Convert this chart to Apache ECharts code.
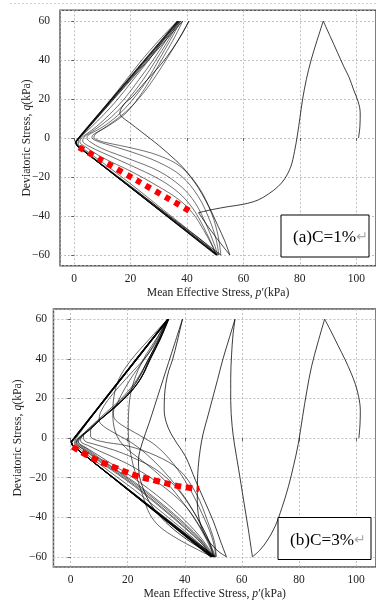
<!DOCTYPE html>
<html>
<head>
<meta charset="utf-8">
<script src="https://cdn.jsdelivr.net/npm/echarts@6/dist/echarts.min.js"></script>
<style>
  html, body { margin: 0; padding: 0; background: #fff; }
  #chart { width: 376px; height: 603px; }
</style>
</head>
<body>
<div id="chart"></div>
<script>
// ---- (a) C=1% : stress path branches, [p', q] in kPa ----
const aInitUp = [[100.8,0],[101.3,6],[101.4,12.8],[100.7,18.5],[99.1,24.6],[97.5,31],[95.6,36.6],[93.3,44],[90.8,52],[88.3,60]];
const aInitDown = [[88.3,60],[86.1,50],[84,40],[82.3,30],[81,20],[80,10],[79.2,2],[78.1,-7],[76.8,-14.7],[74.6,-21],[72.2,-25],[69,-28.6],[65.2,-31.8],[60,-34],[54.6,-35.2],[49,-36.7],[44.1,-38.3]];
const aInitTail = [[44.1,-38.3],[47,-44.5],[50.3,-51],[53,-56],[55.2,-60]];
const aOuter = [[55.2,-60],[53.3,-52.5],[51.1,-45.5],[48.9,-38.5],[46.5,-31.8],[44,-25.5],[41.2,-19.8],[38.5,-15],[35.9,-11.3],[30,-3.8],[24,3],[19.5,8],[17.2,10.5],[16.2,12.5],[16.8,15.5],[18.7,18.8],[20.7,21.2],[25,28.5],[30.1,36.6],[35,46],[38.3,53.5],[40.7,60]];
const aDesc = [
  [[40.7,60],[37,50.5],[33,41],[29,32],[24.5,23],[19.5,15],[14,8.5],[10,4.5],[7.5,2],[7,0.3],[8.5,-1.2],[12,-2.6],[20,-5],[30,-9],[38,-15],[44.5,-26],[48.8,-39],[51,-50],[52,-60]],
  [[38.5,60],[35,50],[31,40],[27,30],[23,21],[18.5,13],[13.5,7.5],[9.5,4],[7,2],[6.3,0.3],[7.5,-1.2],[11,-3],[20,-7],[30,-12.5],[38,-19.5],[44,-30],[48,-42],[50.3,-52],[51.3,-60]],
  [[37.8,60],[34,50],[30,40],[26,30],[21.5,21],[16.5,13],[11.5,7],[7.5,3.5],[5,1.5],[4.5,0],[5.5,-1.8],[10,-5.5],[20,-11],[30,-17],[38,-25],[43,-33.5],[47,-45],[49.8,-55],[50.8,-60]],
  [[37.3,60],[33.3,50],[29,40],[24.5,30],[19.5,20.5],[14.5,12.5],[9.5,6.5],[5.5,2.5],[3.5,0.5],[3,-1.5],[5,-4],[10,-7.5],[20,-14],[30,-21],[37,-28],[42,-36],[46,-46],[49.3,-56],[50.5,-60]],
  [[37,60],[32.5,50],[28,40],[23,30],[18,20.5],[12.5,12],[8,6],[4.5,2.2],[2.5,0],[2,-2],[4,-4.5],[10,-10],[20,-17],[30,-25],[37,-31.5],[42,-38.5],[46,-47.5],[49,-55.5],[50.2,-60]],
  [[36.8,60],[31.5,50],[26.5,40],[21,30],[15.5,20],[10.5,12],[6,5.5],[3,1.5],[1.6,-0.8],[1.5,-3],[4,-6.2],[10,-12.5],[20,-23.5],[30,-35],[40,-46.5],[46.5,-54],[50.5,-60]],
  [[36.6,60],[30,50],[24,40],[18,29],[12.5,19],[7.5,10.5],[4,4.5],[1.8,0.5],[0.9,-2],[1.3,-3.6],[4,-6.8],[10,-13.6],[20,-24.6],[30,-36],[40,-47.5],[47,-55.5],[50.6,-60]]
];
const aAsc = [
  [[52,-60],[1.1,-4.1],[0.7,-2],[38.5,60]],
  [[51.3,-60],[1,-4],[0.6,-2.1],[37.8,60]],
  [[50.8,-60],[0.9,-3.9],[0.5,-2],[37.3,60]],
  [[50.5,-60],[0.8,-3.8],[0.5,-1.9],[37,60]],
  [[50.2,-60],[0.9,-3.7],[0.6,-1.8],[36.8,60]],
  [[50.5,-60],[0.8,-3.6],[0.4,-1.8],[36.6,60]]
];
const aRed = [[1.75,-4.8],[21.9,-21.5],[42,-38.3]];

// ---- (b) C=3% ----
const bInitUp = [[101,0],[101.4,7],[101.5,14],[100.9,21],[99.8,27],[98.3,32.7],[96.2,39.5],[93.6,47],[91.2,54],[89,60]];
const bInitDown = [[89,60],[86.6,48],[84.4,36],[82.8,24],[81.3,11],[79.8,-2.7],[78.2,-13.5],[76.3,-24.6],[74.1,-35],[71.6,-44.8],[68.8,-52],[66.2,-56.8],[63.7,-60]];
const bAsc1 = [[63.7,-60],[62.2,-45.5],[60.6,-31.3],[58.9,-16],[57.4,-3],[56.6,6],[56.1,19],[56.1,30],[56.4,42],[56.9,52],[57.6,60]];
const bDesc1 = [[57.6,60],[55.5,50],[53.4,40],[51.5,29.5],[49.6,19.2],[47.9,10],[46.4,2],[45.4,-6],[44.7,-15],[44.4,-24.6],[44.4,-32],[44.7,-38],[45.6,-44],[47.2,-49.5],[49.5,-54],[52,-57.5],[54.6,-60]];
const bAsc2 = [[54.6,-60],[52.5,-52],[50,-42],[47,-32],[43.8,-21.5],[40.3,-9.4],[37.4,-3],[35.1,2.4],[33.5,8],[32.8,14.1],[32.9,21],[33.4,27.6],[34.4,34],[35.7,39.4],[37.4,49],[39.2,60]];
const bDesc2 = [[39.2,60],[35.3,42.5],[31.4,25],[27.5,7.5],[25,-3],[23.8,-11],[24,-18],[25.3,-25],[27.5,-32],[31,-39],[36,-46],[42,-52.5],[47,-57],[50,-60]];
const bDesc = [
  [[34.2,60],[31,49],[27.6,39.4],[24.5,30],[20.6,22.6],[15,15],[10.2,9.1],[6,3.5],[3,0],[2.2,-2],[3,-3.5],[5,-5.5],[10,-10.5],[17,-17.5],[22.4,-23],[32,-34],[40,-44],[46,-52.5],[49.5,-60]],
  [[34.4,60],[31.3,49.5],[28,40],[25,31],[21.2,23.5],[16,16],[11,10],[7,4.5],[3.8,0.5],[2.8,-2],[3.5,-3.6],[5.5,-5.3],[10,-10],[17,-17],[22.4,-22.3],[32,-33.2],[40,-43.2],[46,-52],[50,-60]],
  [[34,60],[30.6,49],[27,39],[23.6,29.5],[19.6,21.7],[14,14],[9.2,8.2],[5,2.8],[2.3,-0.5],[1.8,-2.5],[3,-4.3],[5,-6],[10,-11.2],[17,-18.2],[22.4,-23.8],[32,-35],[40,-45],[46,-53.2],[49.3,-60]],
  [[34.3,60],[31.2,49.5],[27.9,40],[24.8,30.5],[21,23],[15.5,15.5],[10.6,9.6],[6.4,4],[3.4,0.4],[2.6,-1.8],[3.4,-3.2],[5,-4.5],[10,-9],[17,-15.5],[22.4,-20.5],[32,-31],[40,-41.5],[46,-51],[50.3,-60]],
  [[34.3,60],[31.5,51],[28.5,43],[25.5,35],[22,27],[17.5,19.5],[12.5,13],[8,7],[4.5,2],[3.5,-1],[4,-2.5],[6,-3.7],[10,-6.5],[17,-11],[22.4,-15],[32,-24],[40,-34],[45,-44],[48.5,-53],[50.5,-60]],
  [[34.1,60],[28.5,50],[23,40],[17.5,30],[12,20],[7.5,11],[4,4],[1.8,-0.5],[1.4,-2.5],[2.5,-4.5],[5,-7.5],[10,-13],[17,-20.5],[22.4,-26.3],[32,-37.5],[40,-47],[46,-54.5],[49.5,-60]],
  [[34.3,60],[30,50],[26.4,42],[23,32],[21,22],[20.3,12],[20.2,4],[20.6,-4],[21.8,-13],[23.5,-21.2],[25.5,-30],[27.6,-38],[31,-44.5],[37,-50.5],[44,-56],[49.5,-60]],
  [[34,60],[27,49],[21,39],[17,30],[15.2,21],[14.8,12],[15.5,4],[17.5,-2],[21,-7],[26,-12.5],[32,-20],[38,-30],[43.5,-41],[47.5,-51],[50.3,-60]],
  [[34,60],[32,55],[29.5,48],[26,40],[22,32],[19,25],[16.5,18],[15,13],[15.3,10],[18,6.5],[24,1.5],[30,-4],[36,-13],[41.5,-25],[46,-38],[49.5,-50],[51,-60]],
  [[33.8,60],[31,51],[27,42],[22,34],[17,26],[13,19],[10.5,13],[10,9],[11.5,6],[16,2],[22,-3],[28,-10],[34,-19],[40,-30],[45,-42],[48.5,-52],[50,-60]],
  [[34.4,60],[31.3,49.5],[28,40],[25,31],[21.2,23.5],[16,16],[11,10],[7,4.5],[4.5,1],[5,-1.5],[8,-3],[15,-6],[22,-10],[30,-16],[37,-25],[43,-37],[47.5,-49],[50.8,-60]],
  [[34,60],[30.6,49],[27,39],[23.6,29.5],[19.6,21.7],[14,14],[9.5,8],[7,3.5],[7,1],[10,-1.5],[20,-4],[30,-9],[38,-16],[44,-28],[48,-42],[50.5,-53],[51,-60]],
  [[34.2,60],[31,49],[27.6,39.4],[24.5,30],[20.6,22.6],[15,15],[10.2,9.1],[6,3.5],[3,0],[2,-2.2],[2.8,-4],[5,-6.3],[10,-11.8],[17,-18.8],[22.4,-24.4],[32,-35.6],[40,-45.5],[46,-53.5],[49.5,-60]]
];
const bAsc = [
  [[50,-60],[0.6,-3.8],[0.3,-2],[34.3,60]],
  [[49.5,-60],[0.5,-3.6],[0.2,-1.9],[34.1,60]],
  [[50.3,-60],[0.7,-3.9],[0.4,-2.1],[34.4,60]],
  [[49.2,-60],[0.5,-3.5],[0.2,-1.8],[34,60]],
  [[49.8,-60],[0.6,-3.7],[0.3,-2],[34.2,60]],
  [[50.5,-60],[0.8,-4],[0.4,-2.2],[34.3,60]],
  [[49,-60],[0.4,-3.4],[0.1,-1.8],[33.9,60]],
  [[49.6,-60],[0.6,-3.6],[0.3,-2],[34.1,60]],
  [[50.8,-60],[0.7,-3.9],[0.3,-2.1],[34.2,60]],
  [[49.3,-60],[0.5,-3.5],[0.2,-1.9],[34,60]]
];
const bRed = [[0.7,-4.4],[7.9,-10.3],[14.8,-14.5],[22.4,-18.7],[29.7,-21.5],[37.4,-24.2],[45,-25.8]];

const panelLabels = ["(a)C=1%", "(b)C=3%"];

const SERIF = '"Liberation Serif", "Times New Roman", serif';
const neg = (v) => (v < 0 ? "\u2212" + -v : String(v));

const nameRich = {
  n: { fontFamily: SERIF, fontSize: 11.7, color: "#222" },
  i: { fontFamily: SERIF, fontSize: 11.7, color: "#222", fontStyle: "italic" },
};
const tickLabel = { showMinLabel: false, showMaxLabel: false, fontFamily: SERIF, fontSize: 11.5, color: "#222", formatter: neg };
const gridLine = { show: true, lineStyle: { color: "#b0b0b0", width: 0.8, type: [2, 2] } };

const makeX = (gi, min, max, margin) => ({
  gridIndex: gi, type: "value", min, max, splitNumber: 6, minInterval: 20, maxInterval: 20,
  axisLine: { show: false },
  axisTick: { show: true, length: 3, lineStyle: { color: "#444", width: 0.8 } },
  axisLabel: { ...tickLabel, margin },
  splitLine: gridLine,
  name: "{n|Mean Effective Stress, }{i|p}{n|\u2032(kPa)}",
  nameLocation: "middle", nameGap: 21, nameMoveOverlap: false,
  nameTextStyle: { rich: nameRich },
});
const makeY = (gi, min, max, margin, gap) => ({
  gridIndex: gi, type: "value", min, max, splitNumber: 6, minInterval: 20, maxInterval: 20,
  axisLine: { show: false },
  axisTick: { show: true, length: 3, lineStyle: { color: "#444", width: 0.8 } },
  axisLabel: { ...tickLabel, margin },
  splitLine: gridLine,
  name: "{n|Deviatoric Stress, }{i|q}{n|(kPa)}",
  nameLocation: "middle", nameGap: gap, nameMoveOverlap: false,
  nameTextStyle: { rich: nameRich },
});

const line = (gi, data, smooth, width, opacity) => ({
  type: "line", xAxisIndex: gi, yAxisIndex: gi, data, symbol: "none", silent: true,
  smooth, lineStyle: { color: "#000", width, opacity }, z: 2,
});
const red = (gi, data, dash) => ({
  type: "line", xAxisIndex: gi, yAxisIndex: gi, data, symbol: "none", silent: true, smooth: 0.4,
  lineStyle: { color: "#ff0000", width: 6, type: dash, cap: "butt" }, z: 5,
});

const series = [];
[aInitUp, aInitDown].forEach((d) => series.push(line(0, d, 0.35, 0.9, 0.85)));
series.push(line(0, aInitTail, 0.3, 0.9, 0.8));
series.push(line(0, aOuter, 0.35, 0.9, 0.8));
aDesc.forEach((d) => series.push(line(0, d, 0.35, 0.8, 0.7)));
aAsc.forEach((d) => series.push(line(0, d, false, 0.9, 0.8)));
series.push(red(0, aRed, [5.5, 5.5]));

[bInitUp, bInitDown, bAsc1, bDesc1, bAsc2, bDesc2].forEach((d) => series.push(line(1, d, 0.35, 0.9, 0.85)));
bDesc.forEach((d) => series.push(line(1, d, 0.35, 0.85, 0.7)));
bAsc.forEach((d) => series.push(line(1, d, false, 0.9, 0.8)));
series.push(red(1, bRed, [6.5, 4.5]));

const boxes = [
  { x: 281, y: 215, w: 88, h: 42, tx: 293, ty: 237.5 },
  { x: 278, y: 517.5, w: 93, h: 42, tx: 290, ty: 540 },
];
const graphic = [
  { type: "line", shape: { x1: 10, y1: 3.5, x2: 376, y2: 3.5 }, style: { stroke: "#c8c8c8", lineWidth: 0.8, lineDash: [2, 2] }, silent: true },
];
boxes.forEach((b, i) => {
  graphic.push({ type: "rect", shape: { x: b.x, y: b.y, width: b.w, height: b.h }, style: { fill: "#fff", stroke: "#000", lineWidth: 1 }, z: 100 });
  graphic.push({
    type: "text", x: b.tx, y: b.ty, z: 101,
    style: {
      text: "{t|" + panelLabels[i] + "}{r|\u21b5}",
      verticalAlign: "middle",
      rich: {
        t: { fontFamily: SERIF, fontSize: 17.2, fill: "#000" },
        r: { fontFamily: "DejaVu Sans", fontSize: 14, fill: "#aaa" },
      },
    },
  });
});

const chart = echarts.init(document.getElementById("chart"), null, { renderer: "canvas" });
chart.setOption({
  animation: false,
  backgroundColor: "#fff",
  grid: [
    { left: 60.05, top: 10.3, width: 319.2, height: 255.4, show: true, borderColor: "#555", borderWidth: 1.5, backgroundColor: "transparent" },
    { left: 53.45, top: 308.9, width: 324.9, height: 258.2, show: true, borderColor: "#555", borderWidth: 1.5, backgroundColor: "transparent" },
  ],
  xAxis: [makeX(0, -5, 107, 7), makeX(1, -6, 107, 7)],
  yAxis: [makeY(0, -65.5, 65.5, 10, 27), makeY(1, -65.2, 65.2, 6.5, 30)],
  series,
  graphic,
});
</script>
</body>
</html>
